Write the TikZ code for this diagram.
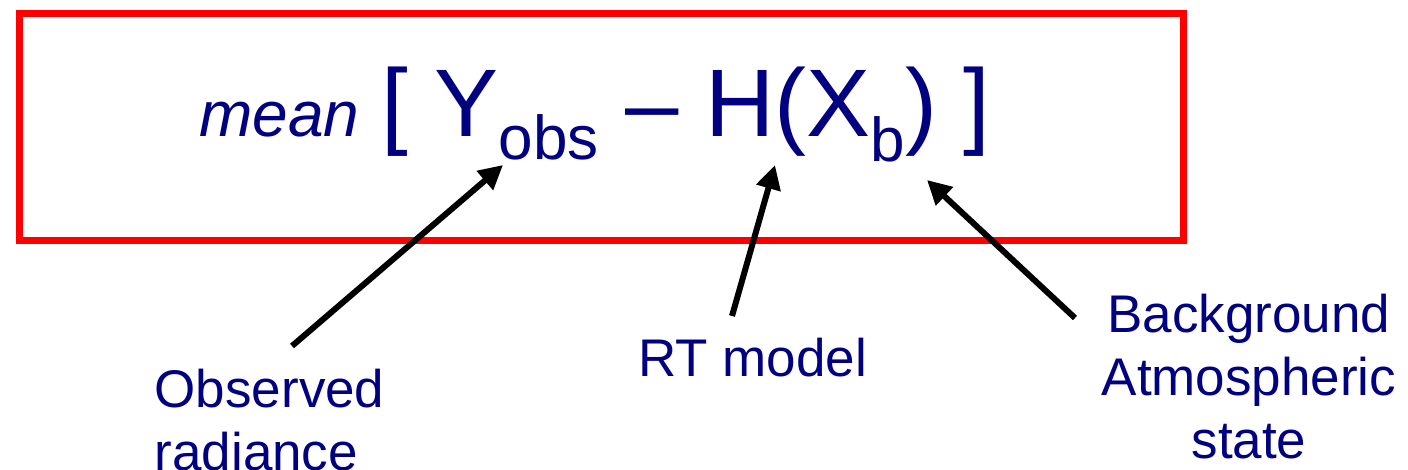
\documentclass[tikz,border=0pt]{standalone}
\usepackage{fontspec}
\setmainfont{Liberation Sans}
\usetikzlibrary{arrows.meta}
\definecolor{navytext}{RGB}{0,0,128}
\definecolor{boxred}{RGB}{255,0,0}
\begin{document}
\begin{tikzpicture}[x=1pt,y=-1pt,
  label/.style={text=navytext,inner sep=0pt,font=\fontsize{53}{63}\selectfont},
  pointer/.style={-{Triangle[length=24pt,width=24pt]},line width=6pt,black}]
  \useasboundingbox (0,0) rectangle (1408,470);
  \draw[boxred,line width=7pt] (19,13.5) rectangle (1183,240.5);
  % the formula
  \node[text=navytext,inner sep=0pt,anchor=base west] (mean) at (199,137)
    {\fontsize{64}{64}\selectfont\itshape mean};
  \node[text=navytext,inner sep=0pt,anchor=base west] (formula) at (381,137)
    {\fontsize{96}{96}\selectfont [ Y\raisebox{-23pt}{\fontsize{62}{62}\selectfont obs}
     -- H(X\raisebox{-25pt}{\fontsize{62}{62}\selectfont b}) ]};
  % the labels
  \node[label,anchor=north west,align=left] (obs) at (154.5,369) {Observed\\radiance};
  \node[label,anchor=base west] (rt) at (638,376) {RT model};
  \node[label,anchor=north,align=center] (bg) at (1249,294) {Background\\Atmospheric\\state};
  \coordinate (obsTail) at (292,346);
  \coordinate (obsTip) at (503,165);
  \coordinate (rtTail) at (732,316);
  \coordinate (rtTip) at (775,165);
  \coordinate (bgTail) at (1075,318);
  \coordinate (bgTip) at (927,180);
  \draw[pointer] (obsTail) -- (obsTip);
  \draw[pointer] (rtTail) -- (rtTip);
  \draw[pointer] (bgTail) -- (bgTip);
\end{tikzpicture}
\end{document}
